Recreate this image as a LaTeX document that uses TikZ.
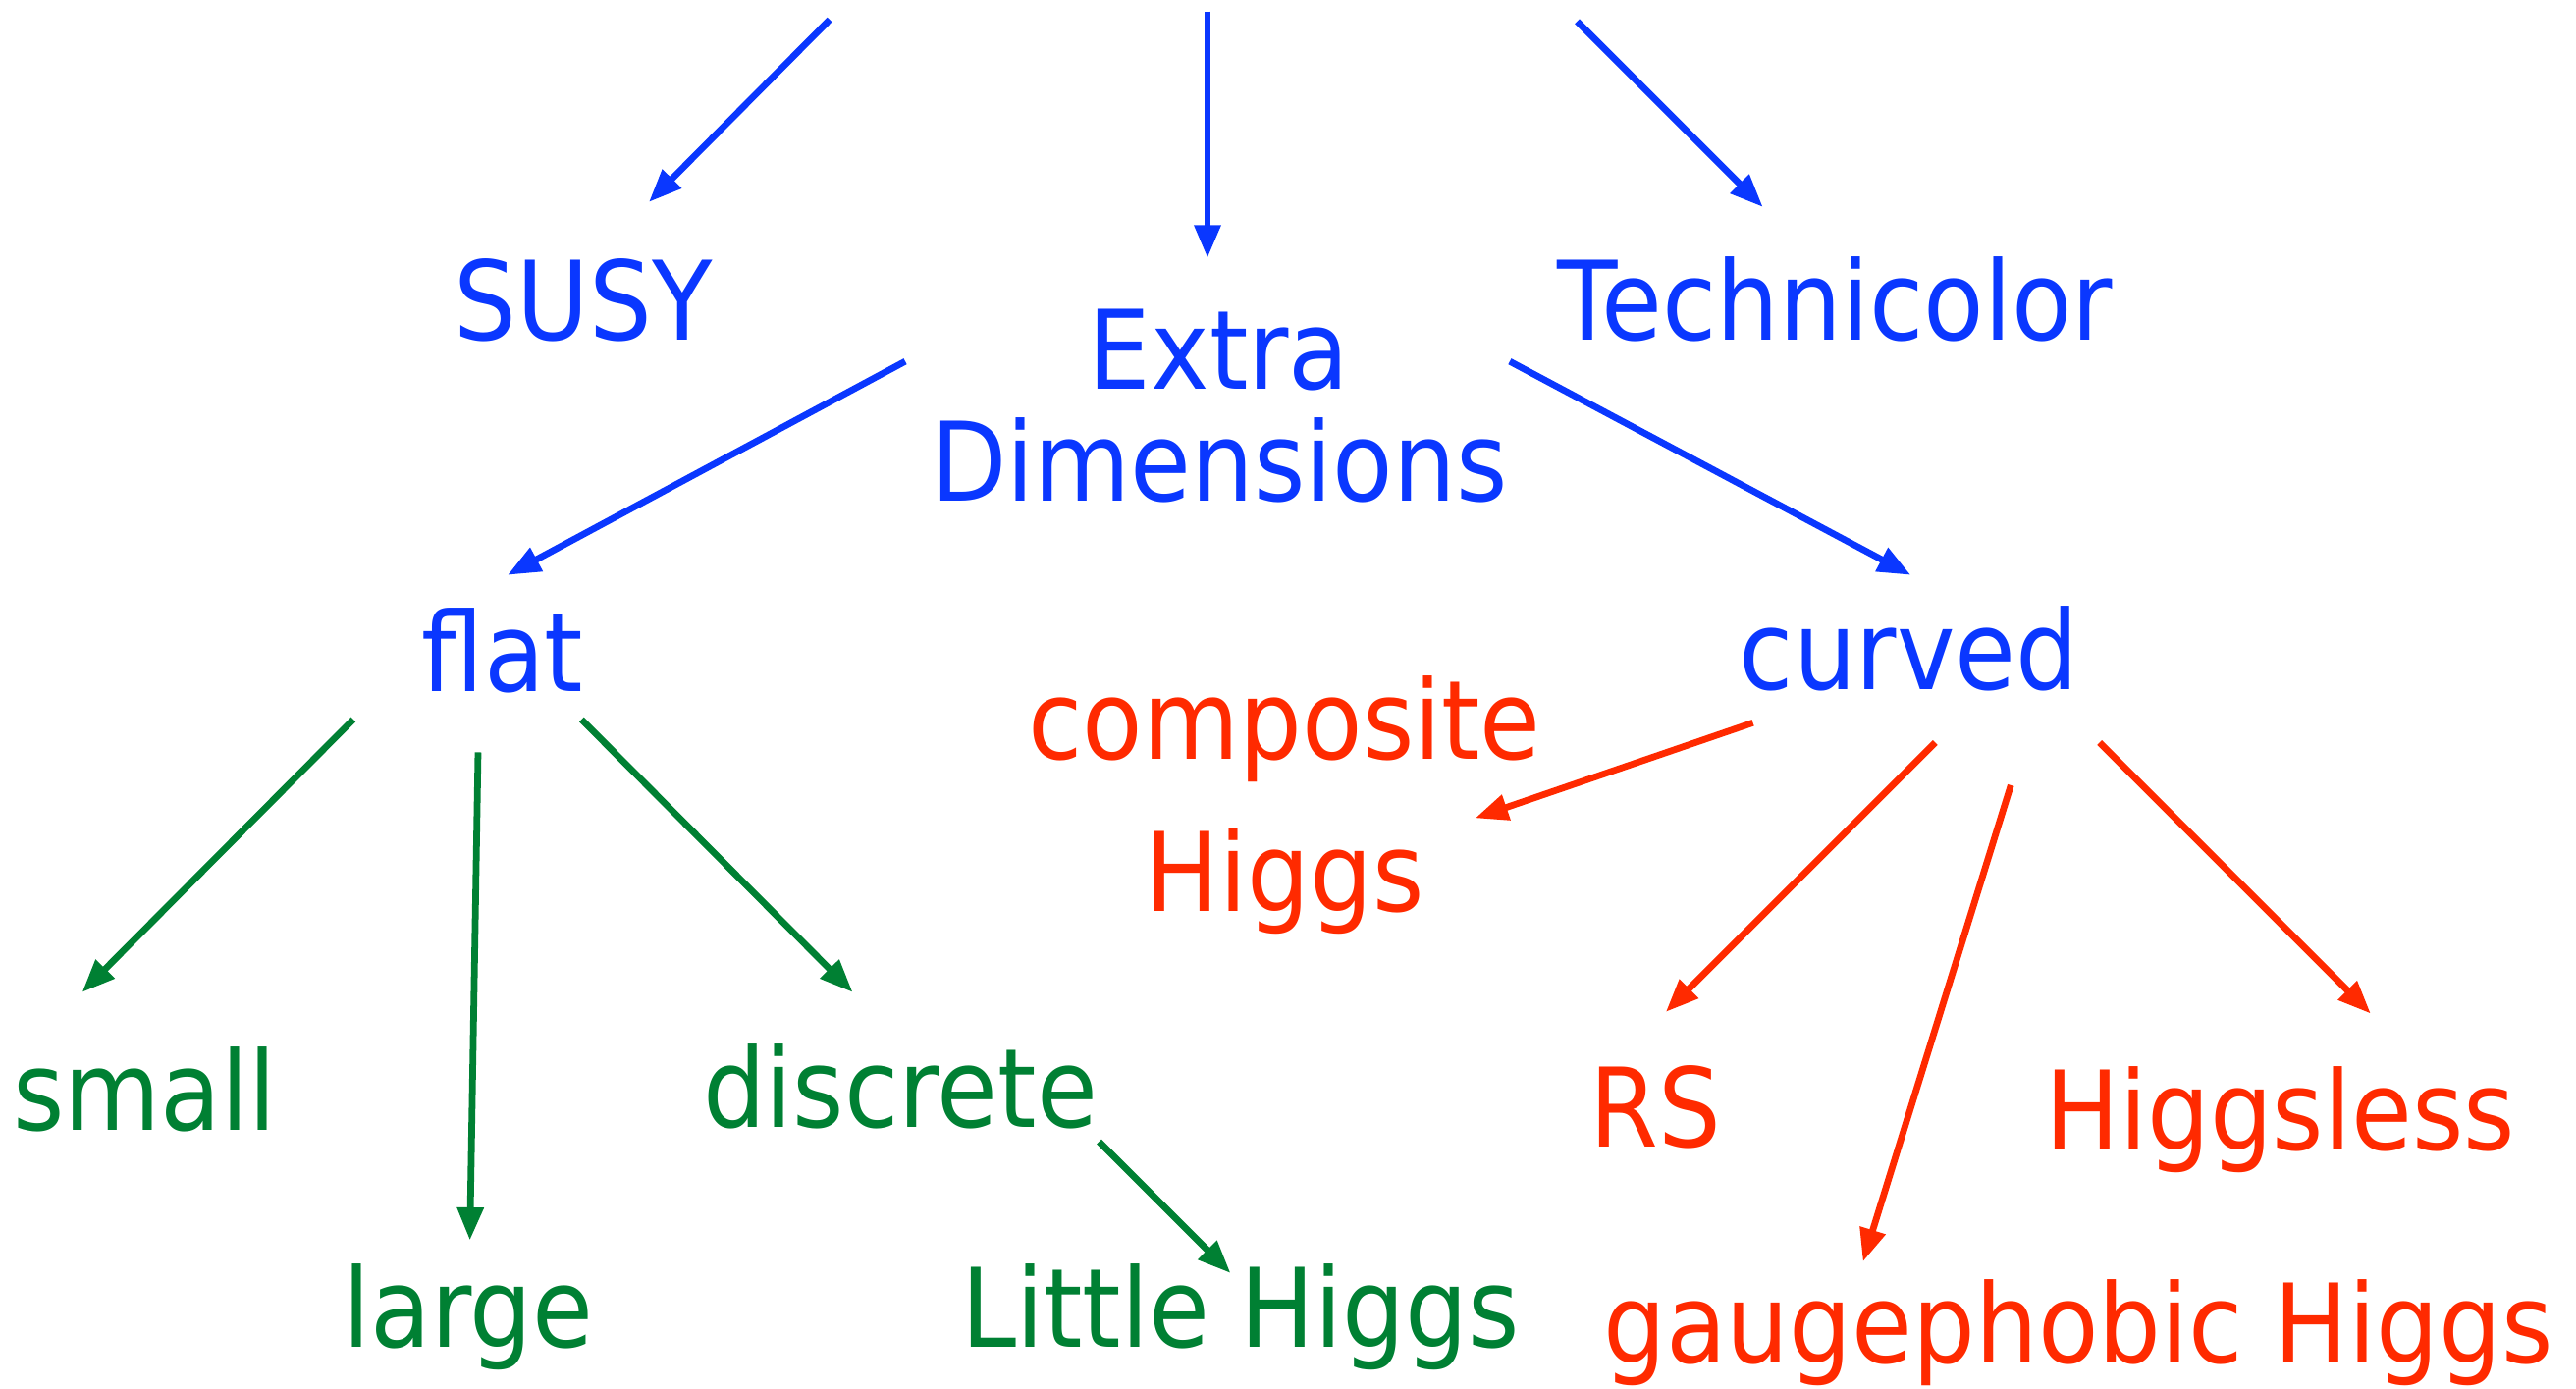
\documentclass[tikz,border=0pt]{standalone}
\usepackage{fontspec}
\setmainfont[FakeStretch=0.9]{DejaVu Sans}
\usetikzlibrary{arrows.meta,calc}
\definecolor{cblue}{HTML}{0A37FF}
\definecolor{cgreen}{HTML}{008033}
\definecolor{cred}{HTML}{FF2A00}
\tikzset{
  lbl/.style={font=\fontsize{19}{22}\selectfont, inner sep=0pt, anchor=base},
  mlbl/.style={inner sep=0pt, anchor=center, align=center},
  arr/.style={line width=1.15pt, -{Triangle[length=0.2cm,width=0.155cm]}},
}
\begin{document}
\begin{tikzpicture}[x=0.01cm,y=-0.01cm]
\useasboundingbox (0,0) rectangle (1568,845);
% nodes
\node[lbl,text=cblue] (susy) at (355,207) {SUSY};
\node[lbl,text=cblue] (techni) at (1117,207) {Technicolor};
\node[mlbl,text=cblue,font=\fontsize{19}{19.3}\selectfont] (extra) at (742,247) {Extra\\Dimensions};
\node[lbl,text=cblue] (flat) at (306,421) {flat};
\node[lbl,text=cblue] (curved) at (1162,420) {curved};
\node[mlbl,text=cred,font=\fontsize{19}{26.4}\selectfont] (comp) at (782,490) {composite\\Higgs};
\node[lbl,text=cgreen] (small) at (88,688) {small};
\node[lbl,text=cgreen] (discrete) at (548,686) {discrete};
\node[lbl,text=cgreen] (large) at (285,820) {large};
\node[lbl,text=cgreen] (little) at (755,820) {Little Higgs};
\node[lbl,text=cred] (rs) at (1008,698) {RS};
\node[lbl,text=cred] (higgsless) at (1388,700) {Higgsless};
\node[lbl,text=cred] (gauge) at (1265,830) {gaugephobic Higgs};
% free tails
\coordinate (t1) at (505,12);
\coordinate (t2) at (735,7);
\coordinate (t3) at (960,13);
% blue arrows
\draw[arr,cblue] (t1) -- ($(susy.base)+(40,-84)$);
\draw[arr,cblue] (t2) -- ($(extra.center)+(-7,-90)$);
\draw[arr,cblue] (t3) -- ($(techni.base)+(-44,-81)$);
\draw[arr,cblue] ($(extra.center)+(-191,-27)$) -- ($(flat.base)+(3,-71)$);
\draw[arr,cblue] ($(extra.center)+(177,-27)$) -- ($(curved.base)+(1,-70)$);
% green arrows
\draw[arr,cgreen] ($(flat.base)+(-91,17)$) -- ($(small.base)+(-38,-84)$);
\draw[arr,cgreen] ($(flat.base)+(-15,37)$) -- ($(large.base)+(1,-65)$);
\draw[arr,cgreen] ($(flat.base)+(48,17)$) -- ($(discrete.base)+(-29,-82)$);
\draw[arr,cgreen] ($(discrete.base)+(121,9)$) -- ($(little.base)+(-6,-45)$);
% red arrows
\draw[arr,cred] ($(curved.base)+(-95,20)$) -- ($(comp.center)+(116,8)$);
\draw[arr,cred] ($(curved.base)+(16,32)$) -- ($(rs.base)+(6,-82)$);
\draw[arr,cred] ($(curved.base)+(62,58)$) -- ($(gauge.base)+(-131,-62)$);
\draw[arr,cred] ($(curved.base)+(116,32)$) -- ($(higgsless.base)+(55,-83)$);
\end{tikzpicture}
\end{document}
